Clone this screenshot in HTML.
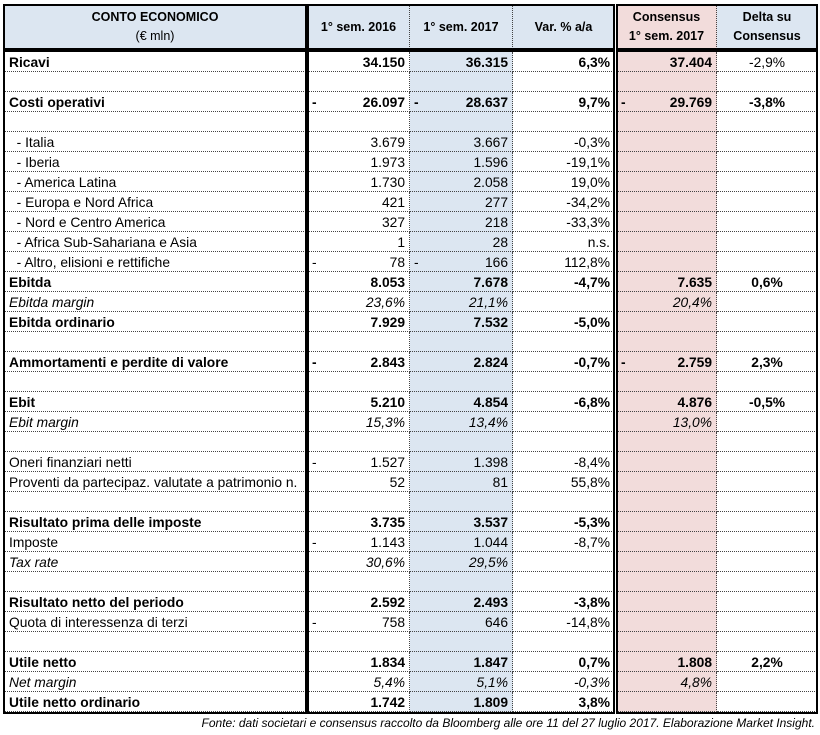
<!DOCTYPE html>
<html><head><meta charset="utf-8">
<style>
body{margin:0;width:820px;height:735px;background:#fff;font-family:"Liberation Sans",sans-serif;position:relative;overflow:hidden;color:#000}
.box{position:absolute;border:2px solid #000;box-sizing:border-box}
.cell{position:absolute;height:20px;line-height:21px;font-size:13.8px;box-sizing:border-box;border-bottom:1px dotted #444;white-space:nowrap;overflow:hidden}
.hd{position:absolute;font-size:12.5px;font-weight:bold;text-align:center;box-sizing:border-box;display:flex;align-items:center;justify-content:center;line-height:19px}
.foot{position:absolute;right:5px;top:716px;font-size:12px;font-style:italic}
</style></head><body>
<div class="hd" style="left:4px;top:5px;width:302px;height:44px;background:#dce6f1;flex-direction:column">CONTO ECONOMICO<span style="font-weight:normal">(€ mln)</span></div>
<div class="hd" style="left:308px;top:5px;width:102px;height:44px;background:#dce6f1;border-right:1px dotted #444">1° sem. 2016</div>
<div class="hd" style="left:410px;top:5px;width:103px;height:44px;background:#dce6f1;border-right:1px dotted #444">1° sem. 2017</div>
<div class="hd" style="left:513px;top:5px;width:101px;height:44px;background:#dce6f1">Var. % a/a</div>
<div class="hd" style="left:617px;top:5px;width:100px;height:44px;background:#f2dcdb;flex-direction:column;border-right:1px dotted #444">Consensus<span>1° sem. 2017</span></div>
<div class="hd" style="left:717px;top:5px;width:100px;height:44px;background:#dce6f1;flex-direction:column">Delta su<span>Consensus</span></div>
<div class="box" style="left:3px;top:4px;width:304px;height:46px"></div>
<div class="box" style="left:307px;top:4px;width:308px;height:46px"></div>
<div class="box" style="left:616px;top:4px;width:202px;height:46px"></div>
<div id="body"></div>
<div class="box" style="left:3px;top:50px;width:304px;height:664px"></div>
<div class="box" style="left:307px;top:50px;width:308px;height:664px"></div>
<div class="box" style="left:616px;top:50px;width:202px;height:664px"></div>
<div class="foot">Fonte: dati societari e consensus raccolto da Bloomberg alle ore 11 del 27 luglio 2017. Elaborazione Market Insight.</div>
<script>
const labels=["Ricavi","","Costi operativi","","  - Italia","  - Iberia","  - America Latina","  - Europa e Nord Africa","  - Nord e Centro America","  - Africa Sub-Sahariana e Asia","  - Altro, elisioni e rettifiche","Ebitda","Ebitda margin","Ebitda ordinario","","Ammortamenti e perdite di valore","","Ebit","Ebit margin","","Oneri finanziari netti","Proventi da partecipaz. valutate a patrimonio n.","","Risultato prima delle imposte","Imposte","Tax rate","","Risultato netto del periodo","Quota di interessenza di terzi","","Utile netto","Net margin","Utile netto ordinario"];
const styles=["b","","b","","","","","","","","","b","i","b","","b","","b","i","","","","","b","","i","","b","","","b","i","b"];
const v2016=["34.150","","-|26.097","","3.679","1.973","1.730","421","327","1","-|78","8.053","23,6%","7.929","","-|2.843","","5.210","15,3%","","-|1.527","52","","3.735","-|1.143","30,6%","","2.592","-|758","","1.834","5,4%","1.742"];
const v2017=["36.315","","-|28.637","","3.667","1.596","2.058","277","218","28","-|166","7.678","21,1%","7.532","","2.824","","4.854","13,4%","","1.398","81","","3.537","1.044","29,5%","","2.493","646","","1.847","5,1%","1.809"];
const vVar=["6,3%","","9,7%","","-0,3%","-19,1%","19,0%","-34,2%","-33,3%","n.s.","112,8%","-4,7%","","-5,0%","","-0,7%","","-6,8%","","","-8,4%","55,8%","","-5,3%","-8,7%","","","-3,8%","-14,8%","","0,7%","-0,3%","3,8%"];
const vCons=["37.404","","-|29.769","","","","","","","","","7.635","20,4%","","","-|2.759","","4.876","13,0%","","","","","","","","","","","","1.808","4,8%",""];
const vDelta=["-2,9%","","-3,8%","","","","","","","","","0,6%","","","","2,3%","","-0,5%","","","","","","","","","","","","","2,2%","",""];
const cols=[{x:4,w:302,bg:"#fff",key:labels,align:"left",n:"label"},{x:308,w:102,bg:"#fff",key:v2016,align:"right",n:"2016",dr:1},{x:410,w:103,bg:"#dce6f1",key:v2017,align:"right",n:"2017",dr:1},{x:513,w:101,bg:"#fff",key:vVar,align:"right",n:"var"},{x:617,w:100,bg:"#f2dcdb",key:vCons,align:"right",n:"consensus",dr:1},{x:717,w:100,bg:"#fff",key:vDelta,align:"center",n:"delta"}];
const body=document.getElementById('body');
labels.forEach((lab,i)=>{
 const st=styles[i];
 cols.forEach((c,ci)=>{
  const d=document.createElement('div');
  
  
  d.className='cell';
  d.style.left=c.x+'px';d.style.top=(52+i*20)+'px';d.style.width=c.w+'px';
  d.style.background=c.bg;d.style.textAlign=c.align;
  d.style.padding=ci==0?'0 0 0 5px':(c.align=='right'?'0 4px 0 4px':'0');
  if(c.dr)d.style.borderRight='1px dotted #444';
  let bold=st=='b', ital=st=='i';
  if(ci==5&&i==0)bold=false;
  d.style.fontWeight=bold?'bold':'normal';d.style.fontStyle=ital?'italic':'normal';
  let t=c.key[i];
  if(ci==0){d.textContent=t.replace(/^  /,'\u00a0\u00a0');}
  else if(t.startsWith('-|')){d.innerHTML='<span style="float:left">-</span>'+t.slice(2);}
  else d.textContent=t;
  body.appendChild(d);
 });
});
</script>
</body></html>
